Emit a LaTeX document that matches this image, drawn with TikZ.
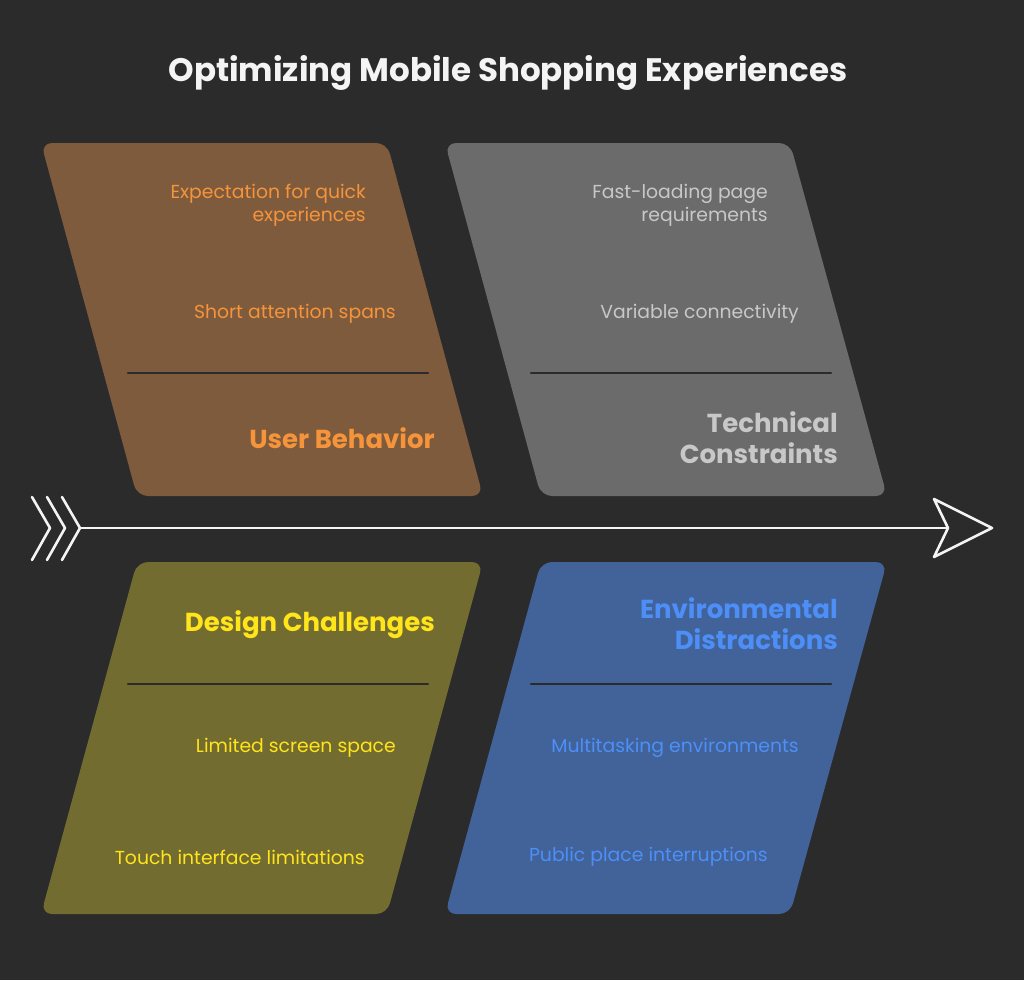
\documentclass[tikz,border=0pt]{standalone}
\usepackage{fontspec}
\setmainfont{Poppins}
\usetikzlibrary{positioning}
\definecolor{bg}{HTML}{2B2B2B}
\definecolor{spine}{HTML}{F4F4F4}
\definecolor{userfill}{HTML}{7F5B3D}
\definecolor{usertext}{HTML}{F5943A}
\definecolor{techfill}{HTML}{6B6B6B}
\definecolor{techtext}{HTML}{C8C8C8}
\definecolor{designfill}{HTML}{736C31}
\definecolor{designtext}{HTML}{FFE51A}
\definecolor{envfill}{HTML}{41639A}
\definecolor{envtext}{HTML}{4D8FF7}

\begin{document}
\begin{tikzpicture}[x=1pt,y=-1pt,
    bone/.style={rounded corners=11pt},
    rib/.style={draw=bg, line width=2.5pt, line cap=round},
    cause/.style={anchor=east, align=right, inner sep=0pt, font=\fontsize{18.8}{23}\selectfont},
    category/.style={anchor=east, align=right, inner sep=0pt, font=\fontsize{26}{31}\selectfont\bfseries},
    arrowline/.style={draw=spine, line width=2.6pt, line cap=round, line join=round}]
    \useasboundingbox[fill=bg] (0,0) rectangle (1024,980);
    \node[text=spine, font=\fontsize{32.5}{38}\selectfont\bfseries] (title) at (508,73) {Optimizing Mobile Shopping Experiences};
    % bones
    \fill[userfill, bone] (41,143) -- (387,143) -- (483,496) -- (137,496) -- cycle;
    \fill[techfill, bone] (445,143) -- (790,143) -- (887,496) -- (541,496) -- cycle;
    \fill[designfill, bone] (137,562) -- (483,562) -- (387,914) -- (41,914) -- cycle;
    \fill[envfill, bone] (541,562) -- (887,562) -- (790,914) -- (445,914) -- cycle;
    \draw[rib] (128,373) -- (428,373);
    \draw[rib] (531,373) -- (831,373);
    \draw[rib] (128,684) -- (428,684);
    \draw[rib] (531,684) -- (831,684);
    % user behavior
    \node[cause, text=usertext] (quick) at (366,205) {Expectation for quick\\experiences};
    \node[cause, text=usertext] (spans) at (396,314) {Short attention spans};
    \node[category, text=usertext] (user) at (435,438) {User Behavior};
    % technical constraints
    \node[cause, text=techtext] (fast) at (768,205) {Fast-loading page\\requirements};
    \node[cause, text=techtext] (conn) at (799,314) {Variable connectivity};
    \node[category, text=techtext] (tech) at (838,438) {Technical\\Constraints};
    % design challenges
    \node[category, text=designtext] (design) at (435,625) {Design Challenges};
    \node[cause, text=designtext] (screen) at (396,748) {Limited screen space};
    \node[cause, text=designtext] (touch) at (365,857) {Touch interface limitations};
    % environmental distractions
    \node[category, text=envtext] (env) at (838,624) {Environmental\\Distractions};
    \node[cause, text=envtext] (multi) at (799,748) {Multitasking environments};
    \node[cause, text=envtext] (public) at (768,857) {Public place interruptions};
    % spine
    \coordinate (tail) at (81,528);
    \coordinate (notch) at (948,528);
    \foreach \dx in {0,15,30}
        \draw[arrowline] (32+\dx,497) -- (50+\dx,528) -- (32+\dx,560);
    \draw[arrowline] (tail) -- (notch);
    \draw[arrowline] (notch) -- (934,499) -- (992,528) -- (934,557) -- cycle;
\end{tikzpicture}
\end{document}
